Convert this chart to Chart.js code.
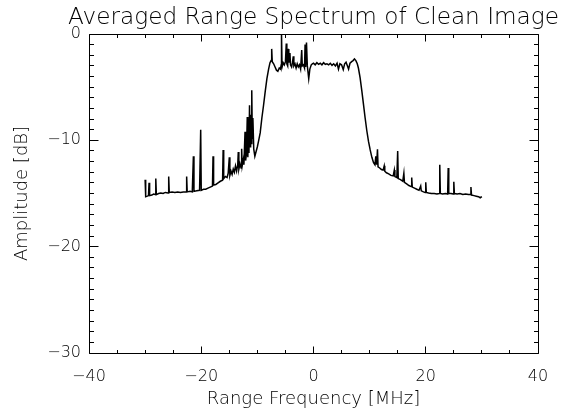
<!DOCTYPE html>
<html>
<head>
<meta charset="utf-8">
<title>Averaged Range Spectrum of Clean Image</title>
<script src="https://cdn.jsdelivr.net/npm/chart.js@4/dist/chart.umd.min.js"></script>
<style>
  html, body { margin: 0; padding: 0; background: #fff; }
  #wrap { width: 569px; height: 409px; }
</style>
</head>
<body>
<div id="wrap"><canvas id="spectrumChart" width="569" height="409"></canvas></div>
<script>
// Range spectrum, in three pieces (MHz / dB)
// lower skirt, with interference spikes
const leftFreq = [-30.0, -29.9, -29.6, -29.4, -29.3, -29.2, -28.8, -28.5, -28.2, -28.1, -28.0, -27.6, -27.2, -26.8, -26.4, -25.9, -25.8, -25.7, -25.2, -24.7, -24.2, -23.7, -23.2, -22.7, -22.6, -22.5, -22.0, -21.6, -21.4, -21.3, -20.8, -20.3, -20.1, -20.0, -19.6, -19.2, -18.8, -18.4, -18.0, -17.9, -17.8, -17.4, -17.0, -16.6, -16.2, -16.1, -16.0, -15.7, -15.4, -15.2, -15.0, -14.9, -14.7, -14.5, -14.3, -14.1, -13.9, -13.7, -13.5, -13.4, -13.3, -13.1, -12.9, -12.8, -12.7, -12.5, -12.4, -12.2, -12.1, -11.95, -11.8, -11.7, -11.6, -11.5, -11.4, -11.3, -11.2, -11.1, -11.0, -10.9, -10.8, -10.65, -10.45];
const leftAmp = [-13.7, -15.3, -15.25, -15.2, -14.0, -15.2, -15.15, -15.05, -15.1, -13.6, -15.1, -15.0, -14.95, -15.0, -14.9, -14.95, -13.4, -14.9, -14.85, -14.9, -14.85, -14.9, -14.85, -14.85, -13.4, -14.85, -14.8, -14.85, -11.5, -14.8, -14.75, -14.7, -9.0, -14.7, -14.6, -14.6, -14.5, -14.4, -14.3, -11.5, -14.2, -14.15, -14.0, -13.85, -13.75, -10.9, -13.6, -13.4, -13.5, -13.1, -11.6, -13.3, -12.9, -13.2, -12.7, -13.0, -12.4, -12.9, -12.3, -11.1, -12.7, -12.2, -12.6, -10.8, -12.4, -11.8, -12.3, -9.2, -11.9, -11.3, -7.8, -11.6, -8.6, -11.2, -6.7, -10.6, -7.6, -10.3, -5.3, -9.8, -7.9, -10.8, -11.5];

// passband (rising edge, plateau, falling edge)
const bandFreq = [-10.25, -10.0, -9.8, -9.5, -9.2, -8.9, -8.6, -8.3, -8.0, -7.75, -7.55, -7.45, -7.35, -7.1, -6.85, -6.6, -6.35, -6.1, -5.9, -5.75, -5.7, -5.6, -5.4, -5.2, -5.0, -4.85, -4.75, -4.6, -4.5, -4.4, -4.2, -4.1, -3.9, -3.75, -3.6, -3.5, -3.3, -3.1, -2.9, -2.7, -2.5, -2.3, -2.1, -2.0, -1.8, -1.6, -1.5, -1.4, -1.25, -1.1, -0.85, -0.65, -0.4, -0.2, 0.0, 0.3, 0.6, 0.9, 1.2, 1.5, 1.8, 2.1, 2.4, 2.7, 3.0, 3.3, 3.6, 3.9, 4.2, 4.45, 4.7, 5.0, 5.3, 5.55, 5.8, 6.05, 6.25, 6.5, 6.8, 7.05, 7.3, 7.55, 7.8, 8.0, 8.3, 8.6, 8.9, 9.2, 9.5, 9.8, 10.1, 10.4, 10.7, 10.95];
const bandAmp = [-11.1, -10.6, -10.1, -9.3, -7.9, -6.7, -5.4, -4.2, -3.3, -2.7, -2.5, -1.4, -2.6, -2.8, -3.1, -3.4, -3.5, -3.2, -3.3, -2.9, 0.0, -3.1, -2.7, -2.9, -2.6, -0.9, -2.8, -3.0, -1.4, -2.7, -1.8, -2.9, -3.1, -2.7, -2.1, -3.0, -2.8, -3.2, -2.8, -3.1, -2.9, -3.3, -1.5, -3.0, -2.9, -3.2, -1.0, -3.1, -0.8, -3.0, -4.2, -3.3, -2.9, -2.8, -2.75, -2.9, -2.7, -2.85, -2.75, -2.9, -2.7, -2.85, -2.8, -2.9, -2.75, -2.95, -2.8, -3.0, -2.75, -3.3, -2.8, -2.9, -3.35, -2.8, -2.65, -3.0, -3.3, -2.75, -2.6, -2.5, -2.35, -2.5, -2.8, -3.2, -4.1, -5.3, -6.6, -7.9, -9.1, -10.1, -10.9, -11.6, -12.1, -12.3];

// upper skirt
const rightFreq = [11.1, 11.25, 11.4, 11.5, 11.8, 12.1, 12.4, 12.6, 12.7, 13.0, 13.4, 13.8, 14.2, 14.4, 14.5, 14.85, 15.0, 15.1, 15.5, 15.9, 16.1, 16.2, 16.6, 17.0, 17.4, 17.5, 17.6, 18.0, 18.4, 18.8, 19.1, 19.2, 19.6, 19.9, 20.0, 20.1, 20.5, 21.0, 21.5, 22.0, 22.4, 22.5, 22.6, 23.0, 23.5, 23.9, 24.0, 24.1, 24.5, 24.9, 25.0, 25.1, 25.6, 26.1, 26.6, 27.1, 27.6, 27.95, 28.05, 28.15, 28.6, 29.0, 29.4, 29.7, 30.0];
const rightAmp = [-11.5, -12.3, -10.85, -12.5, -12.6, -12.75, -12.8, -12.4, -12.9, -13.05, -13.15, -13.3, -13.35, -12.8, -13.4, -13.5, -11.0, -13.6, -13.7, -13.85, -13.1, -13.95, -14.1, -14.25, -14.35, -13.5, -14.4, -14.5, -14.6, -14.7, -14.3, -14.75, -14.85, -14.9, -13.95, -14.9, -14.95, -15.0, -15.0, -15.05, -15.0, -12.3, -15.0, -15.05, -15.0, -15.05, -12.6, -15.0, -15.0, -15.05, -13.9, -15.0, -15.05, -15.0, -15.1, -15.05, -15.1, -15.1, -14.4, -15.15, -15.2, -15.25, -15.3, -15.4, -15.3];

// axis ticks
const xTickValues = [-40, -20, 0, 20, 40];
const yTickValues = [-30, -20, -10, 0];

const chartTitle = 'Averaged Range Spectrum of Clean Image';
const FONT = '"DejaVu Sans", sans-serif';

function toPoints(fs, as) {
    const n = Math.min(fs.length, as.length);
    const pts = [];
    for (let i = 0; i < n; i++) pts.push({ x: fs[i], y: as[i] });
    return pts;
}

function tickLabel(v) {
    return v < 0 ? '\u2212' + Math.abs(v) : String(v);
}

// IDL-like box: frame on all four sides with inward major/minor ticks,
// and the title centred over the plot area
const frameTicks = {
    id: 'frameTicks',
    afterDatasetsDraw(chart) {
        const { ctx, chartArea: a, scales: { x, y } } = chart;
        const L = Math.floor(a.left) + 0.5, R = Math.floor(a.right) + 0.5;
        const T = Math.floor(a.top) + 0.5, B = Math.floor(a.bottom) + 0.5;
        ctx.save();
        ctx.strokeStyle = '#000';
        ctx.lineWidth = 1;
        ctx.beginPath();
        ctx.rect(L, T, R - L, B - T);
        // x ticks every 5 MHz, long at labelled values
        for (let v = x.min; v <= x.max; v += 5) {
            const px = Math.floor(x.getPixelForValue(v)) + 0.5;
            const len = xTickValues.includes(v) ? 7 : 3.5;
            ctx.moveTo(px, B); ctx.lineTo(px, B - len);
            ctx.moveTo(px, T); ctx.lineTo(px, T + len);
        }
        // y ticks every 1 dB
        for (let v = y.min; v <= y.max; v += 1) {
            const py = Math.floor(y.getPixelForValue(v)) + 0.5;
            const len = yTickValues.includes(v) ? 9 : 4.5;
            ctx.moveTo(L, py); ctx.lineTo(L + len, py);
            ctx.moveTo(R, py); ctx.lineTo(R - len, py);
        }
        ctx.stroke();

        ctx.fillStyle = '#000';
        ctx.font = '200 23.2px ' + FONT;
        ctx.textAlign = 'center';
        ctx.textBaseline = 'middle';
        ctx.fillText(chartTitle, (a.left + a.right) / 2, 18);
        ctx.restore();
    }
};

const ctx = document.getElementById('spectrumChart');
const spectrum = toPoints(leftFreq, leftAmp)
    .concat(toPoints(bandFreq, bandAmp))
    .concat(toPoints(rightFreq, rightAmp));

new Chart(ctx, {
    type: 'line',
    data: {
        datasets: [{
            label: 'Amplitude',
            data: spectrum,
            borderColor: '#000',
            borderWidth: 1.5,
            pointRadius: 0,
            tension: 0,
            fill: false
        }]
    },
    options: {
        responsive: false,
        animation: false,
        devicePixelRatio: 1,
        layout: { padding: { left: 0, right: 31, top: 34, bottom: 0 } },
        plugins: {
            legend: { display: false },
            tooltip: { enabled: false },
            title: { display: false }
        },
        scales: {
            x: {
                type: 'linear',
                min: -40,
                max: 40,
                afterBuildTicks: s => { s.ticks = xTickValues.map(v => ({ value: v })); },
                afterFit: s => { s.height = 56; },
                grid: { display: false, drawTicks: false },
                border: { display: false },
                ticks: {
                    color: '#000',
                    padding: 14,
                    maxRotation: 0,
                    autoSkip: false,
                    font: { family: FONT, size: 16, weight: 200 },
                    callback: v => tickLabel(v)
                },
                title: {
                    display: true,
                    text: 'Range Frequency [MHz]',
                    color: '#000',
                    font: { family: FONT, size: 18, weight: 200, lineHeight: 1.05 },
                    padding: { top: 0, bottom: 0 }
                }
            },
            y: {
                type: 'linear',
                min: -30,
                max: 0,
                afterBuildTicks: s => { s.ticks = yTickValues.map(v => ({ value: v })); },
                afterFit: s => { s.width = 89; },
                grid: { display: false, drawTicks: false },
                border: { display: false },
                ticks: {
                    color: '#000',
                    padding: 8,
                    font: { family: FONT, size: 16, weight: 200 },
                    callback: v => tickLabel(v)
                },
                title: {
                    display: true,
                    text: 'Amplitude [dB]',
                    color: '#000',
                    font: { family: FONT, size: 18, weight: 200, lineHeight: 1.0 },
                    padding: { top: 13, bottom: 0 }
                }
            }
        }
    },
    plugins: [frameTicks]
});
</script>
</body>
</html>
